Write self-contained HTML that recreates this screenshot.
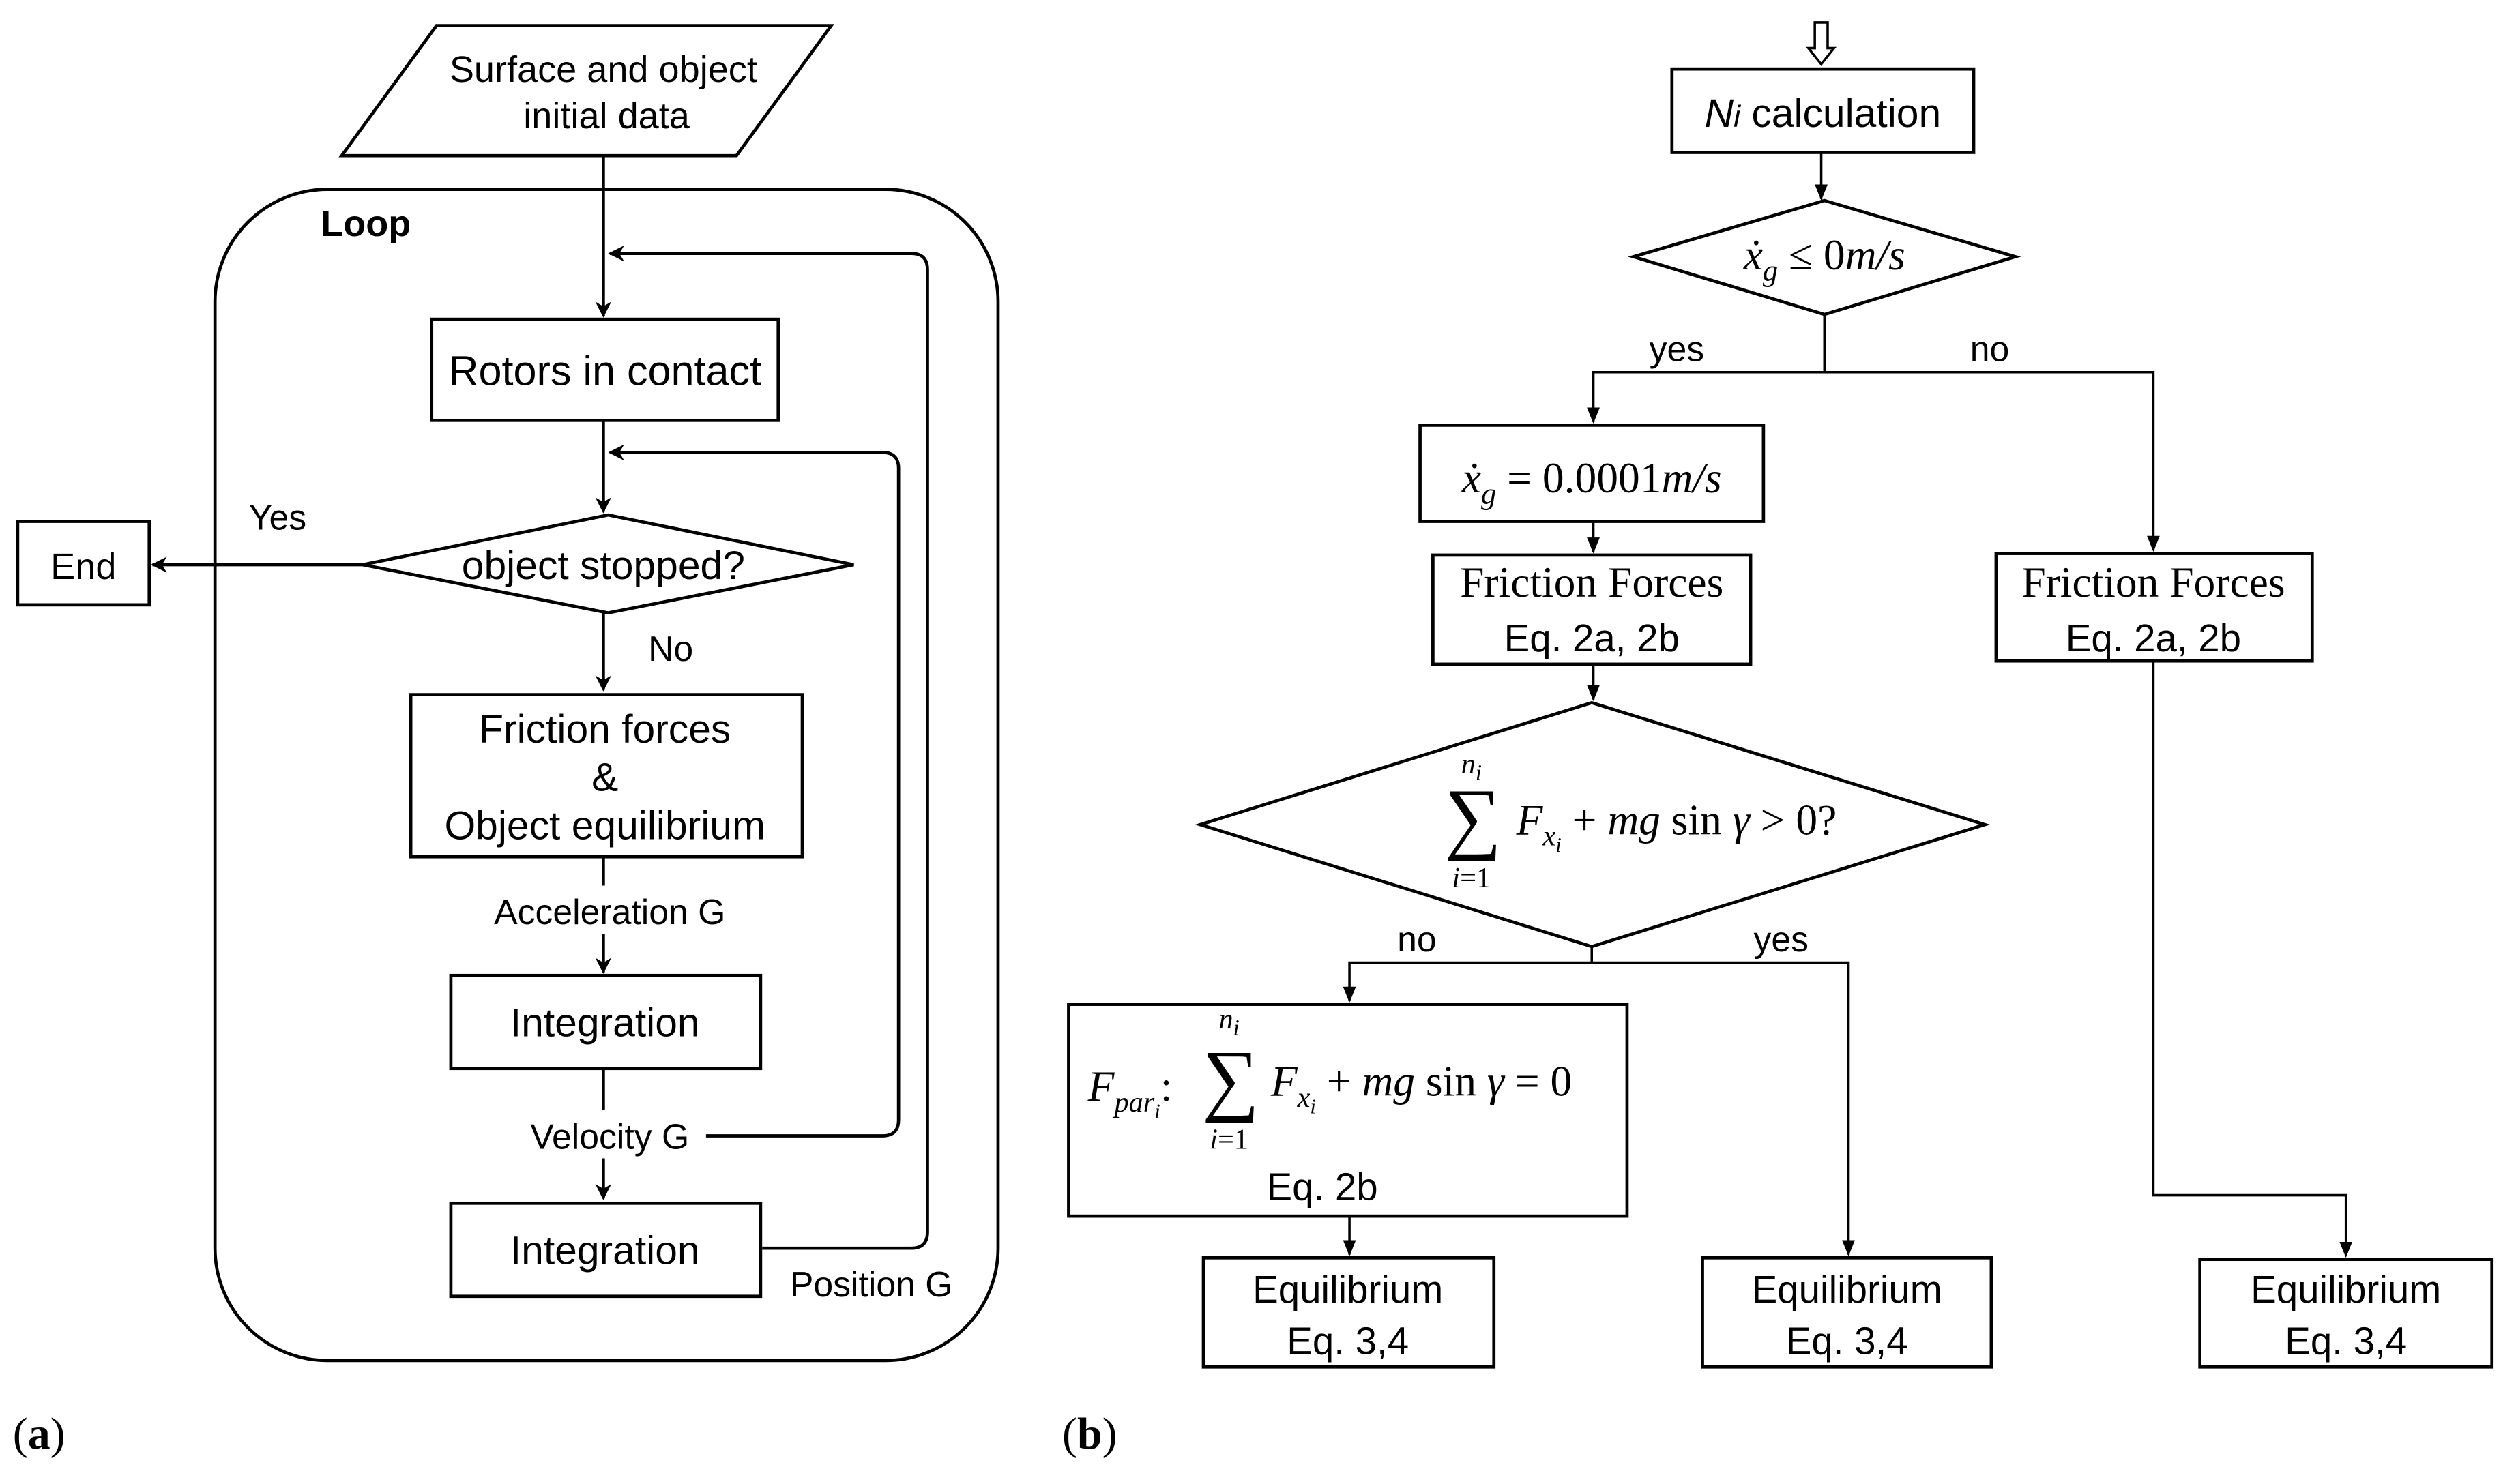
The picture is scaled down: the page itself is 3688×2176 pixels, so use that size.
<!DOCTYPE html>
<html><head><meta charset="utf-8"><style>
html,body{margin:0;padding:0;background:#fff;}
svg{display:block;}
.s{font-family:"Liberation Sans",sans-serif;}
.c{font-family:"Liberation Sans",sans-serif;}
.m{font-family:"Liberation Serif",serif;}
</style></head><body>
<svg width="3688" height="2176" viewBox="0 0 1568 925" preserveAspectRatio="none" xmlns="http://www.w3.org/2000/svg">
<defs>
<marker id="a" markerWidth="10" markerHeight="10" refX="9" refY="5" orient="auto" markerUnits="userSpaceOnUse"><path d="M0,0 L10,5 L0,10 L3,5 Z" fill="#000"/></marker>
<marker id="b" markerWidth="10" markerHeight="10" refX="9" refY="5" orient="auto" markerUnits="userSpaceOnUse"><path d="M0,1 L10,5 L0,9 Z" fill="#000"/></marker>
</defs>
<g fill="none" stroke="#000" stroke-width="2">
<polygon points="272,16 518,16 459,97 213,97"/>
<rect x="134" y="118" width="488" height="730" rx="70"/>
<line x1="376" y1="97" x2="376" y2="197" marker-end="url(#a)"/>
<rect x="269" y="199" width="216" height="63"/>
<path d="M475,778 H568 Q578,778 578,768 V168 Q578,158 568,158 H380" marker-end="url(#a)"/>
<line x1="376" y1="262" x2="376" y2="319" marker-end="url(#a)"/>
<path d="M440,708 H550 Q560,708 560,698 V292 Q560,282 550,282 H380" marker-end="url(#a)"/>
<polygon points="226,352 379,321 532,352 379,382"/>
<line x1="226" y1="352" x2="95" y2="352" marker-end="url(#a)"/>
<rect x="11" y="325" width="82" height="52"/>
<line x1="376" y1="382" x2="376" y2="430" marker-end="url(#a)"/>
<rect x="256" y="433" width="244" height="101"/>
<line x1="376" y1="534" x2="376" y2="552"/>
<line x1="376" y1="582" x2="376" y2="606" marker-end="url(#a)"/>
<rect x="281" y="608" width="193" height="58"/>
<line x1="376" y1="666" x2="376" y2="692"/>
<line x1="376" y1="722" x2="376" y2="747" marker-end="url(#a)"/>
<rect x="281" y="750" width="193" height="58"/>
<path d="M1131,14 V30 H1127 L1135,40 L1143,30 H1139 V14 Z" stroke-width="1.5"/>
<rect x="1042" y="43" width="188" height="52"/>
<line x1="1135" y1="95" x2="1135" y2="124" marker-end="url(#b)" stroke-width="1.5"/>
<polygon points="1018,160 1137,125 1256,160 1137,196"/>
<g stroke-width="1.5">
<polyline points="1137,196 1137,232"/>
<polyline points="1342,232 993,232 993,263" marker-end="url(#b)"/>
<polyline points="1137,232 1342,232 1342,343" marker-end="url(#b)"/>
<line x1="993" y1="325" x2="993" y2="344" marker-end="url(#b)"/>
<line x1="993" y1="414" x2="993" y2="436" marker-end="url(#b)"/>
<polyline points="1342,412 1342,745 1462,745 1462,783" marker-end="url(#b)"/>
<polyline points="992,590 992,600"/>
<polyline points="992,600 841,600 841,624" marker-end="url(#b)"/>
<polyline points="992,600 1152,600 1152,782" marker-end="url(#b)"/>
<line x1="841" y1="758" x2="841" y2="782" marker-end="url(#b)"/>
</g>
<rect x="885" y="265" width="214" height="60"/>
<rect x="893" y="346" width="198" height="68"/>
<rect x="1244" y="345" width="197" height="67"/>
<polygon points="748,514 992,438 1237,514 992,590"/>
<rect x="666" y="626" width="348" height="132"/>
<rect x="750" y="784" width="181" height="68"/>
<rect x="1061" y="784" width="180" height="68"/>
<rect x="1371" y="785" width="182" height="67"/>
</g>
<g fill="#000">
<text class="s" x="376" y="51" text-anchor="middle" style="font-size:23px">Surface and object</text>
<text class="s" x="378" y="80" text-anchor="middle" style="font-size:23px">initial data</text>
<text class="s" x="228" y="147" text-anchor="middle" style="font-size:23px;font-weight:bold">Loop</text>
<text class="s" x="377" y="240" text-anchor="middle" style="font-size:26px">Rotors in contact</text>
<text class="s" x="376" y="361" text-anchor="middle" style="font-size:25px">object stopped?</text>
<text class="s" x="173" y="330" text-anchor="middle" style="font-size:22px">Yes</text>
<text class="s" x="52" y="361" text-anchor="middle" style="font-size:23px">End</text>
<text class="s" x="418" y="412" text-anchor="middle" style="font-size:22px">No</text>
<text class="s" x="377" y="463" text-anchor="middle" style="font-size:25px">Friction forces</text>
<text class="s" x="377" y="493" text-anchor="middle" style="font-size:25px">&amp;</text>
<text class="s" x="377" y="523" text-anchor="middle" style="font-size:25px">Object equilibrium</text>
<text class="s" x="380" y="576" text-anchor="middle" style="font-size:22px">Acceleration G</text>
<text class="s" x="377" y="646" text-anchor="middle" style="font-size:25px">Integration</text>
<text class="s" x="380" y="716" text-anchor="middle" style="font-size:22px">Velocity G</text>
<text class="s" x="377" y="788" text-anchor="middle" style="font-size:25px">Integration</text>
<text class="s" x="543" y="808" text-anchor="middle" style="font-size:22px">Position G</text>
<text class="m" x="8" y="903" style="font-size:28px">(<tspan font-weight="bold">a</tspan>)</text>
<text class="m" x="662" y="903" style="font-size:28px">(<tspan font-weight="bold">b</tspan>)</text>

<text class="c" x="1136" y="79" text-anchor="middle" style="font-size:25px"><tspan font-style="italic">N</tspan><tspan font-style="italic" style="font-size:19px">i</tspan> calculation</text>
<text class="m" x="1137" y="168" text-anchor="middle" style="font-size:27px;font-style:italic">ẋ<tspan style="font-size:19px" dy="7">g</tspan><tspan dy="-7" style="font-style:normal"> ≤ 0</tspan>m/s</text>
<text class="c" x="1045" y="225" text-anchor="middle" style="font-size:22px">yes</text>
<text class="c" x="1240" y="225" text-anchor="middle" style="font-size:22px">no</text>
<text class="m" x="992" y="307" text-anchor="middle" style="font-size:27px;font-style:italic">ẋ<tspan style="font-size:19px" dy="7">g</tspan><tspan dy="-7" style="font-style:normal"> = 0.0001</tspan>m/s</text>
<text class="m" x="992" y="372" text-anchor="middle" style="font-size:27px">Friction Forces</text>
<text class="c" x="992" y="406" text-anchor="middle" style="font-size:24px">Eq. 2a, 2b</text>
<text class="m" x="1342" y="372" text-anchor="middle" style="font-size:27px">Friction Forces</text>
<text class="c" x="1342" y="406" text-anchor="middle" style="font-size:24px">Eq. 2a, 2b</text>

<text class="m" x="917" y="482" text-anchor="middle" style="font-size:18px;font-style:italic">n<tspan style="font-size:14px" dy="4">i</tspan></text>
<text class="m" x="918" y="526" text-anchor="middle" style="font-size:50px">∑</text>
<text class="m" x="917" y="553" text-anchor="middle" style="font-size:18px"><tspan font-style="italic">i</tspan>=1</text>
<text class="m" x="945" y="520" style="font-size:27px;font-style:italic">F<tspan style="font-size:18px" dy="7">x</tspan><tspan style="font-size:13px" dy="4">i</tspan><tspan dy="-11" style="font-style:normal"> + </tspan>mg<tspan style="font-style:normal"> sin </tspan>γ<tspan style="font-style:normal"> &gt; 0?</tspan></text>
<text class="c" x="883" y="593" text-anchor="middle" style="font-size:22px">no</text>
<text class="c" x="1110" y="593" text-anchor="middle" style="font-size:22px">yes</text>
<text class="m" x="678" y="686" style="font-size:27px;font-style:italic">F<tspan style="font-size:18px" dy="7">par</tspan><tspan style="font-size:13px" dy="4">i</tspan><tspan dy="-11" style="font-style:normal">:</tspan></text>
<text class="m" x="766" y="641" text-anchor="middle" style="font-size:18px;font-style:italic">n<tspan style="font-size:14px" dy="4">i</tspan></text>
<text class="m" x="767" y="689" text-anchor="middle" style="font-size:50px">∑</text>
<text class="m" x="766" y="716" text-anchor="middle" style="font-size:18px"><tspan font-style="italic">i</tspan>=1</text>
<text class="m" x="792" y="683" style="font-size:27px;font-style:italic">F<tspan style="font-size:18px" dy="7">x</tspan><tspan style="font-size:13px" dy="4">i</tspan><tspan dy="-11" style="font-style:normal"> + </tspan>mg<tspan style="font-style:normal"> sin </tspan>γ<tspan style="font-style:normal"> = 0</tspan></text>
<text class="c" x="824" y="748" text-anchor="middle" style="font-size:24px">Eq. 2b</text>
<text class="c" x="840" y="812" text-anchor="middle" style="font-size:24px">Equilibrium</text>
<text class="c" x="840" y="844" text-anchor="middle" style="font-size:24px">Eq. 3,4</text>
<text class="c" x="1151" y="812" text-anchor="middle" style="font-size:24px">Equilibrium</text>
<text class="c" x="1151" y="844" text-anchor="middle" style="font-size:24px">Eq. 3,4</text>
<text class="c" x="1462" y="812" text-anchor="middle" style="font-size:24px">Equilibrium</text>
<text class="c" x="1462" y="844" text-anchor="middle" style="font-size:24px">Eq. 3,4</text>
</g>
</svg>
</body></html>
